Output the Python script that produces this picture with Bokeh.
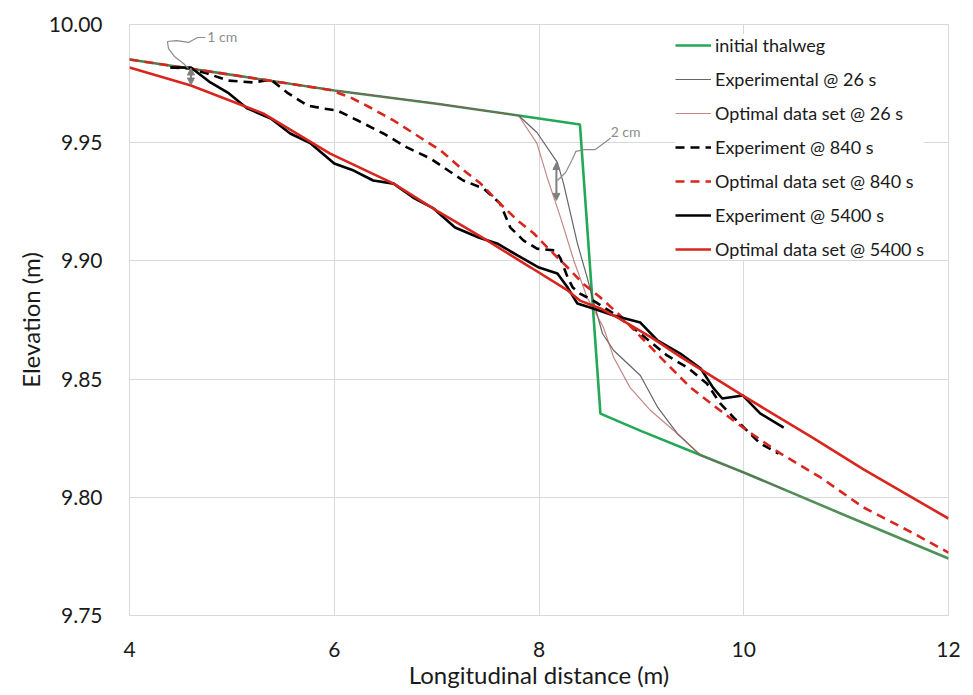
from bokeh.plotting import figure
from bokeh.models import (Legend, LegendItem, FixedTicker, NumeralTickFormatter,
                          Arrow, NormalHead, Label)
from bokeh.embed import file_html
from bokeh.resources import INLINE

# ---------------- data ----------------
x_ticks = [4, 6, 8, 10, 12]
y_ticks = [9.75, 9.80, 9.85, 9.90, 9.95, 10.00]

init_x = [4, 5, 6, 7, 7.8, 8.4, 8.6, 9.0, 9.6, 10, 11, 12]
init_y = [9.9852, 9.9787, 9.9721, 9.9665, 9.9615, 9.9577, 9.8354, 9.8280, 9.8175, 9.8105, 9.7922, 9.7741]

exp26_x = [4, 5, 6, 7, 7.8, 7.98, 8.18, 8.24, 8.375, 8.47, 8.53, 8.62, 8.73, 8.99, 9.16, 9.35, 9.58, 10.0, 10.4]
exp26_y = [9.9852, 9.9787, 9.9721, 9.9665, 9.9615, 9.9543, 9.9416, 9.9327, 9.9074, 9.8930, 9.8832, 9.8693,
           9.8621, 9.8515, 9.8380, 9.8270, 9.8177, 9.8105, 9.8032]

opt26_x = [4, 5, 6, 7, 7.8, 7.98, 8.08, 8.21, 8.34, 8.47, 8.63, 8.73, 8.89, 9.09, 9.35, 9.58, 10, 11, 12]
opt26_y = [9.9852, 9.9787, 9.9721, 9.9665, 9.9615, 9.9497, 9.9353, 9.9184, 9.9002, 9.8845, 9.8718, 9.8591,
           9.8464, 9.8367, 9.8270, 9.8177, 9.8105, 9.7922, 9.7741]

exp840_x = [4.40, 4.58, 4.76, 4.96, 5.21, 5.38, 5.54, 5.74, 5.89, 6.03, 6.23, 6.48, 6.71, 6.94, 7.26, 7.46,
            7.62, 7.72, 7.85, 7.98, 8.16, 8.21, 8.28, 8.33, 8.40, 8.53, 8.73, 8.99, 9.25, 9.45, 9.64, 9.77,
            9.90, 10.16, 10.34]
exp840_y = [9.9818, 9.9814, 9.9793, 9.9763, 9.9755, 9.9767, 9.9712, 9.9657, 9.9645, 9.9636, 9.9594, 9.9539,
            9.9480, 9.9433, 9.9340, 9.9306, 9.9243, 9.9141, 9.9086, 9.9052, 9.9044, 9.9010, 9.8930, 9.8887,
            9.8862, 9.8832, 9.8777, 9.8693, 9.8600, 9.8549, 9.8481, 9.8397, 9.8338, 9.8228, 9.8185]

opt840_x = [4, 5, 5.96, 6.16, 6.35, 6.58, 6.84, 7.04, 7.23, 7.43, 7.59, 7.79, 7.95, 8.08, 8.28, 8.43, 8.60,
            8.79, 9.19, 9.48, 9.77, 10.03, 10.36, 10.75, 11.17, 11.66, 12.0]
opt840_y = [9.9852, 9.9787, 9.9723, 9.9691, 9.9649, 9.9594, 9.9522, 9.9467, 9.9395, 9.9327, 9.9255, 9.9171,
            9.9116, 9.9057, 9.8972, 9.8904, 9.8845, 9.8770, 9.8591, 9.8464, 9.8367, 9.8283, 9.8185, 9.8084,
            9.7957, 9.7847, 9.7766]

exp5400_x = [4.40, 4.60, 4.79, 4.96, 5.15, 5.38, 5.57, 5.77, 6.00, 6.19, 6.38, 6.58, 6.77, 6.97, 7.18, 7.41,
             7.59, 7.79, 8.00, 8.18, 8.28, 8.375, 8.53, 8.73, 8.99, 9.16, 9.38, 9.58, 9.70, 9.79, 9.99, 10.16,
             10.39]
exp5400_y = [9.9818, 9.9818, 9.9755, 9.9712, 9.9645, 9.9602, 9.9539, 9.9497, 9.9412, 9.9382, 9.9340, 9.9327,
             9.9268, 9.9222, 9.9141, 9.9099, 9.9074, 9.9023, 9.8972, 9.8947, 9.8887, 9.8820, 9.8799, 9.8769,
             9.8739, 9.8663, 9.8608, 9.8545, 9.8464, 9.8418, 9.8431, 9.8355, 9.8295]

opt5400_x = [4.0, 4.6, 5.31, 5.96, 6.58, 7.0, 7.46, 7.92, 8.28, 8.40, 8.60, 8.79, 9.12, 9.38, 10.0, 10.68,
             11.17, 12.0]
opt5400_y = [9.9818, 9.9742, 9.9623, 9.9454, 9.9327, 9.9213, 9.9095, 9.8972, 9.8875, 9.8832, 9.8799, 9.8755,
             9.8670, 9.8595, 9.8428, 9.8250, 9.8118, 9.7910]

# annotations (callouts)
note1_text = "1 cm"
note1_pos = (4.76, 9.9948)
note1_arrow = (4.6, 9.9816, 9.9744)
note1_path_x = [4.742, 4.664, 4.576, 4.459, 4.371, 4.381, 4.439, 4.527, 4.576]
note1_path_y = [9.9945, 9.9945, 9.9924, 9.9932, 9.9928, 9.9898, 9.9865, 9.9835, 9.9814]

note2_text = "2 cm"
note2_pos = (8.70, 9.9546)
note2_arrow = (8.17, 9.9416, 9.9256)
note2_path_x = [8.70, 8.63, 8.55, 8.44, 8.36, 8.32, 8.26, 8.18]
note2_path_y = [9.9520, 9.9497, 9.9471, 9.9471, 9.9463, 9.9425, 9.9374, 9.9340]

# ---------------- figure ----------------
FONT = "Lato"
TXT = "#1a1a1a"
p = figure(width=973, height=695, output_backend="svg", toolbar_location=None,
           x_range=(4, 12), y_range=(9.75, 10.0),
           min_border_left=129, min_border_right=25, min_border_top=24, min_border_bottom=80)
p.background_fill_color = "white"
p.border_fill_color = "white"
p.outline_line_color = "#d9d9d9"
p.outline_line_width = 1

for g in (p.xgrid[0], p.ygrid[0]):
    g.grid_line_color = "#d9d9d9"
    g.grid_line_width = 1

p.xaxis.ticker = FixedTicker(ticks=x_ticks)
p.yaxis.ticker = FixedTicker(ticks=y_ticks)
p.yaxis.formatter = NumeralTickFormatter(format="0.00")
for ax in (p.xaxis[0], p.yaxis[0]):
    ax.axis_line_color = None
    ax.major_tick_line_color = None
    ax.minor_tick_line_color = None
    ax.major_label_text_font = FONT
    ax.major_label_text_font_size = "21px"
    ax.major_label_text_color = TXT
    ax.axis_label_text_font = FONT
    ax.axis_label_text_font_size = "24px"
    ax.axis_label_text_font_style = "normal"
    ax.axis_label_text_color = TXT
p.xaxis.axis_label = "Longitudinal distance (m)"
p.yaxis.axis_label = "Elevation (m)"
p.yaxis.major_label_standoff = 21
p.xaxis.major_label_standoff = 20
p.xaxis.axis_label_standoff = 0
p.yaxis.axis_label_standoff = 1

GREEN = "#22a856"
RED = "#d8261e"

r0 = p.line(init_x, init_y, line_color=GREEN, line_width=2.6)
r1 = p.line(exp26_x, exp26_y, line_color="#4a4a4a", line_width=1.2, line_alpha=0.85)
r2 = p.line(opt26_x, opt26_y, line_color="#b0605c", line_width=1.2, line_alpha=0.75)
r3 = p.line(exp840_x, exp840_y, line_color="black", line_width=2.6, line_dash="9 6")
r4 = p.line(opt840_x, opt840_y, line_color=RED, line_width=2.6, line_dash="9 6")
r5 = p.line(exp5400_x, exp5400_y, line_color="black", line_width=2.6)
r6 = p.line(opt5400_x, opt5400_y, line_color=RED, line_width=2.6)

# callouts
GREY = "#8c8c8c"
p.line(note1_path_x, note1_path_y, line_color=GREY, line_width=1.2)
p.line(note2_path_x, note2_path_y, line_color=GREY, line_width=1.2)
for (ax_, y0, y1) in (note1_arrow, note2_arrow):
    p.add_layout(Arrow(x_start=ax_, y_start=y0, x_end=ax_, y_end=y1,
                       line_color="#7f7f7f", line_width=2,
                       start=NormalHead(size=7, fill_color="#7f7f7f", line_color="#7f7f7f"),
                       end=NormalHead(size=7, fill_color="#7f7f7f", line_color="#7f7f7f")))
for txt, (tx, ty) in ((note1_text, note1_pos), (note2_text, note2_pos)):
    p.add_layout(Label(x=tx, y=ty, text=txt, text_font=FONT, text_font_size="14px",
                       text_color=GREY, text_align="left", text_baseline="middle"))

legend = Legend(items=[
    LegendItem(label="initial thalweg", renderers=[r0]),
    LegendItem(label="Experimental @ 26 s", renderers=[r1]),
    LegendItem(label="Optimal data set @ 26 s", renderers=[r2]),
    LegendItem(label="Experiment @ 840 s", renderers=[r3]),
    LegendItem(label="Optimal data set @ 840 s", renderers=[r4]),
    LegendItem(label="Experiment @ 5400 s", renderers=[r5]),
    LegendItem(label="Optimal data set @ 5400 s", renderers=[r6]),
], location=(546, 355))
legend.label_text_font = FONT
legend.label_text_font_size = "18px"
legend.label_text_color = TXT
legend.glyph_width = 36
legend.glyph_height = 22
legend.label_height = 22
legend.label_standoff = 4
legend.spacing = 12
legend.padding = 6
legend.margin = 0
legend.border_line_color = None
legend.background_fill_color = "white"
legend.background_fill_alpha = 1.0
p.add_layout(legend, "center")

open("out.html", "w").write(file_html(p, INLINE))
